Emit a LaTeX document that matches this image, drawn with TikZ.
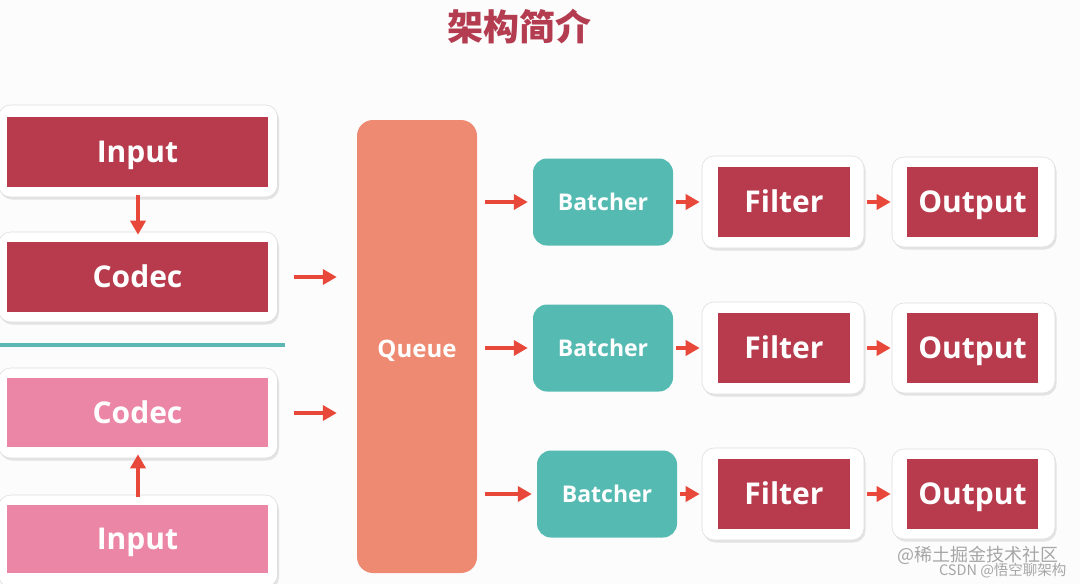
\documentclass[tikz,border=0pt]{standalone}
\usepackage{fontspec}
\setmainfont{Open Sans}
\newfontfamily\cjk{Noto Sans CJK SC}
\usetikzlibrary{arrows.meta,shadows}
\definecolor{bg}{HTML}{FCFCFC}
\definecolor{dred}{HTML}{B73B4C}
\definecolor{pinkc}{HTML}{EC86A7}
\definecolor{tealc}{HTML}{55BAB1}
\definecolor{queuec}{HTML}{EE8A72}
\definecolor{arrc}{HTML}{E8483A}
\definecolor{titlec}{HTML}{B43C50}
\definecolor{linec}{HTML}{5DB8B3}
\tikzset{
  frame/.style={draw=gray!25,line width=0.6pt,fill=white,rounded corners=12pt,
    drop shadow={shadow xshift=1.5pt,shadow yshift=-2.5pt,opacity=0.25,fill=gray!80}},
  inner/.style={fill=#1,text=white,font=\bfseries\fontsize{30}{32}\selectfont,inner sep=0pt,
    text height=21.5pt,text depth=0pt},
  small/.style={text=white,font=\bfseries\fontsize{23}{26}\selectfont,inner sep=0pt,
    text height=16.5pt,text depth=0pt},
  arr/.style={draw=arrc,line width=3.5pt,-{Triangle[length=14pt,width=15pt]}},
}
\begin{document}
\begin{tikzpicture}[x=1pt,y=-1pt]
\path[fill=bg] (0,0) rectangle (1080,584);
\useasboundingbox (0,0) rectangle (1080,584);

% title
\node[text=titlec,font=\cjk\bfseries\fontsize{36}{38}\selectfont] (title) at (519,27) {架构简介};

% left side frames
\node[frame,minimum width=279pt,minimum height=92pt] (inF) at (138,151) {};
\node[inner=dred,minimum width=261pt,minimum height=70pt] (in) at (137.5,152) {Input};
\node[frame,minimum width=279pt,minimum height=90pt] (coF) at (138,277) {};
\node[inner=dred,minimum width=261pt,minimum height=70pt] (co) at (137.5,277) {Codec};

\draw[line width=3.5pt,linec] (0,345) coordinate (l1) -- (285,345) coordinate (l2);

\node[frame,minimum width=279pt,minimum height=90pt] (co2F) at (138,413) {};
\node[inner=pinkc,minimum width=261pt,minimum height=69pt] (co2) at (137.5,412.5) {Codec};
\node[frame,minimum width=279pt,minimum height=92pt] (in2F) at (138,541) {};
\node[inner=pinkc,minimum width=261pt,minimum height=68pt] (in2) at (137.5,539) {Input};

% queue
\node[fill=queuec,rounded corners=16pt,minimum width=120pt,minimum height=453pt] (q) at (417,346.5) {};
\node[small,font=\bfseries\fontsize{24}{26}\selectfont,text height=17pt] (qt) at (417,349) {Queue};

% right rows
\foreach \r/\y/\bx in {1/202/603,2/348/603,3/494/607}{
  \node[fill=tealc,rounded corners=14pt,minimum width=140pt,minimum height=87pt,small] (b\r) at (\bx,\y) {Batcher};
  \node[frame,minimum width=162pt,minimum height=92pt] (fF\r) at (783,\y) {};
  \node[inner=dred,minimum width=132pt,minimum height=70pt] (f\r) at (784,\y) {Filter};
  \node[frame,minimum width=163pt,minimum height=90pt] (oF\r) at (973.5,\y) {};
  \node[inner=dred,minimum width=131pt,minimum height=70pt] (o\r) at (972.5,\y) {Output};
  \draw[arr] ([xshift=8pt]q.east |- b\r.west) -- ([xshift=-5pt]b\r.west);
  \draw[arr] ([xshift=3pt]b\r.east) -- ([xshift=-2pt]fF\r.west);
  \draw[arr] ([xshift=3pt]fF\r.east) -- ([xshift=-1pt]oF\r.west);
}

% left arrows
\draw[arr] ([yshift=2pt]inF.south) -- ([yshift=-3pt]coF.north);
\draw[arr] ([yshift=-2pt]in2F.north) -- ([yshift=4pt]co2F.south);
\draw[arr] ([xshift=16pt]coF.east) -- ([xshift=-20pt]q.west |- coF.east);
\draw[arr] ([xshift=16pt]co2F.east) -- ([xshift=-20pt]q.west |- co2F.east);

% watermark
\node[text=gray!70,font=\cjk\fontsize{18}{20}\selectfont,anchor=east] (wm1) at (1062,555) {@稀土掘金技术社区};
\node[text=gray!70,font=\cjk\fontsize{14.5}{16}\selectfont,anchor=east] (wm2) at (1070,571) {CSDN @悟空聊架构};
\end{tikzpicture}
\end{document}
